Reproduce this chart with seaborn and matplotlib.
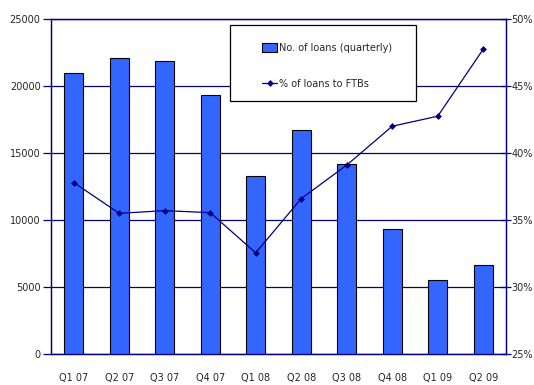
import matplotlib
matplotlib.use('Agg')
import matplotlib.pyplot as plt
from matplotlib.patches import Rectangle
from matplotlib.ticker import FuncFormatter
import numpy as np
import pandas as pd
import seaborn as sns

# -- DATA --
quarters = ['Q1 07', 'Q2 07', 'Q3 07', 'Q4 07', 'Q1 08',
            'Q2 08', 'Q3 08', 'Q4 08', 'Q1 09', 'Q2 09']
loans = [21000, 22100, 21890, 19300, 13310, 16720, 14180, 9350, 5500, 6640]
ftb_pct = [37.8, 35.5, 35.7, 35.55, 32.55, 36.6, 39.1, 42.0, 42.75, 47.75]

NAVY = '#000080'
BAR_BLUE = '#3366FF'
FS = 7

sns.set_style('white')
plt.rcParams['font.family'] = ['DejaVu Sans']

df = pd.DataFrame({'quarter': quarters, 'loans': loans, 'pct': ftb_pct})

fig = plt.figure(figsize=(5.34, 3.85), dpi=100)
ax = fig.add_axes([0.0955, 0.0805, 0.852, 0.870])

# barres (axe gauche)
sns.barplot(data=df, x='quarter', y='loans', color=BAR_BLUE, saturation=1,
            width=0.42, edgecolor='black', linewidth=0.8, ax=ax, zorder=3)

ax.set_ylim(0, 25000)
ax.set_yticks(range(0, 25001, 5000))
ax.yaxis.grid(True, color=NAVY, linewidth=0.9)
ax.set_axisbelow(True)
ax.set_xlim(-0.5, len(quarters) - 0.5)
ax.set_xlabel('')
ax.set_ylabel('')
ax.set_xticks(np.arange(len(quarters)))
ax.set_xticklabels(quarters)
ax.set_xticks(np.arange(len(quarters) + 1) - 0.5, minor=True)
ax.tick_params(axis='x', which='major', length=0, pad=14, labelsize=FS)
ax.tick_params(axis='x', which='minor', direction='inout', length=7,
               color=NAVY, width=0.9)
ax.tick_params(axis='y', direction='out', length=6, color=NAVY, width=0.9,
               labelsize=FS, pad=1.5)
for s in ax.spines.values():
    s.set_color(NAVY)
    s.set_linewidth(0.9)

# ligne % FTB (axe droit)
ax2 = ax.twinx()
sns.lineplot(data=df, x='quarter', y='pct', sort=False, color=NAVY,
             linewidth=0.9, marker='D', markersize=3.5, markeredgewidth=0,
             ax=ax2, zorder=4)
ax2.set_ylim(25, 50)
ax2.set_yticks(range(25, 51, 5))
ax2.yaxis.set_major_formatter(FuncFormatter(lambda v, p: f'{v:.0f}%'))
ax2.set_ylabel('')
ax2.tick_params(axis='y', direction='inout', length=7, color=NAVY, width=0.9,
                labelsize=FS, pad=0.5)
for s in ax2.spines.values():
    s.set_color(NAVY)
    s.set_linewidth(0.9)
ax2.set_xlim(-0.5, len(quarters) - 0.5)

# legend box
box = Rectangle((230 / 534, 1 - 101 / 385), 186 / 534, 76 / 385,
                transform=fig.transFigure, facecolor='white',
                edgecolor='black', linewidth=0.9, zorder=5)
ax2.add_patch(box)
box.set_clip_on(False)
bar_h = Rectangle((0, 0), 1, 1, facecolor=BAR_BLUE, edgecolor='black',
                  linewidth=0.8)
line_h = plt.Line2D([], [], color=NAVY, linewidth=0.9, marker='D',
                    markersize=3.5, markeredgewidth=0)
leg = ax2.legend([bar_h, line_h], ['No. of loans (quarterly)', '% of loans to FTBs'],
                 loc='upper left', bbox_to_anchor=(257 / 534, 1 - 38 / 385),
                 bbox_transform=fig.transFigure, frameon=False,
                 fontsize=FS, labelspacing=2.7, handlelength=1.6,
                 handleheight=1.0, handletextpad=0.2, borderpad=0)
leg.set_zorder(6)

fig.savefig('out.png', dpi=100)
